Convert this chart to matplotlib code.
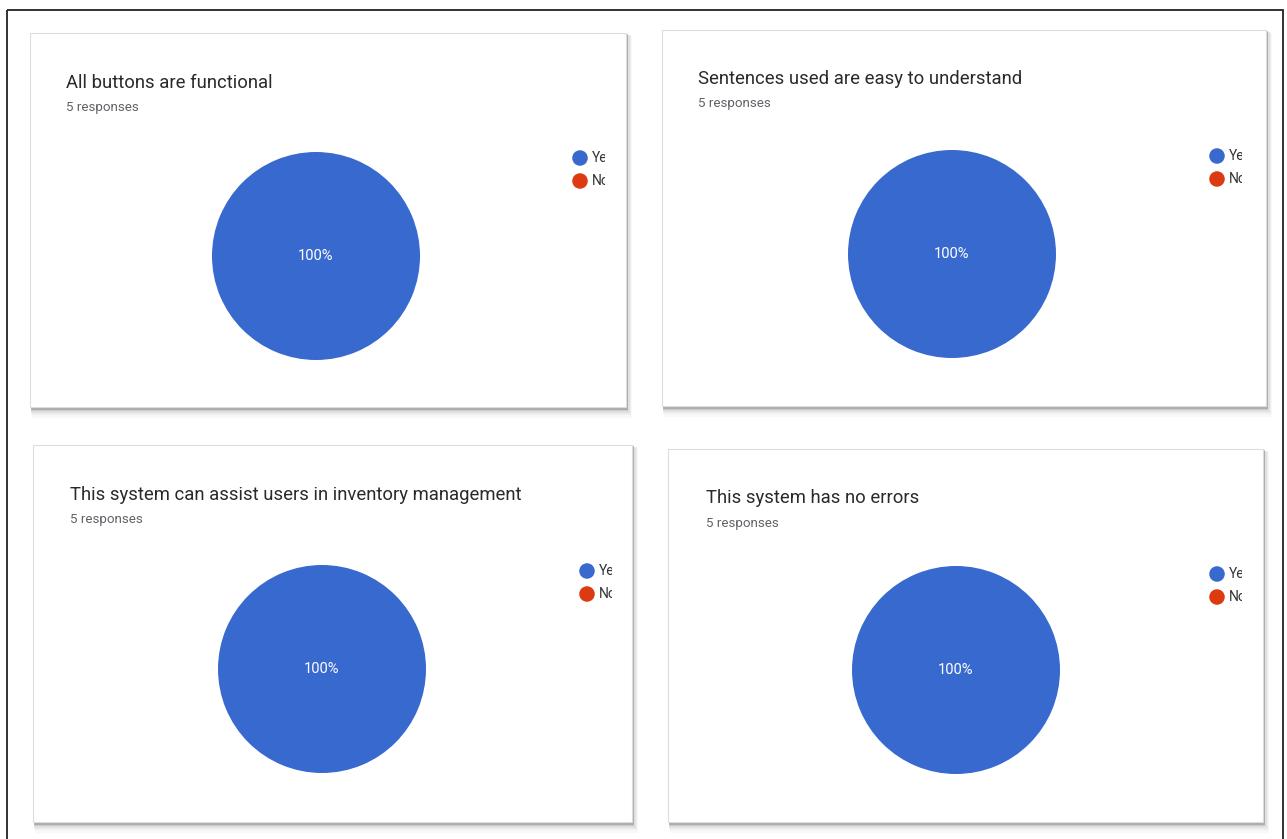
import matplotlib
matplotlib.use("Agg")
import matplotlib.pyplot as plt
from matplotlib.patches import Rectangle

# ---- data ----
titles = [
    "All buttons are functional",
    "Sentences used are easy to understand",
    "This system can assist users in inventory management",
    "This system has no errors",
]
responses = [5, 5, 5, 5]
labels = ["Yes", "No"]
yes_counts = [5, 5, 5, 5]
no_counts = [0, 0, 0, 0]
colors = ["#3869cf", "#dc3b12"]

# ---- layout (pixels) ----
W, H = 1287, 839
panels = [(30, 33, 626, 407), (662, 30, 1266, 406), (33, 445, 632, 822), (668, 449, 1263, 822)]
pies = [(316, 256, 104), (952, 254, 104), (322, 669, 104), (956, 670, 104)]
title_pos = [(66, 83), (698, 79), (70, 495), (706, 498)]
legend_pos = [(580, 158), (1217, 156), (587, 571), (1217, 574)]
legend_clip = [605, 1242, 612, 1242]

plt.rcParams['font.family'] = ['Roboto', 'DejaVu Sans']
fig = plt.figure(figsize=(W / 100, H / 100), dpi=100)
fig.patch.set_facecolor("white")
bg = fig.add_axes([0, 0, 1, 1])
bg.set_xlim(0, W)
bg.set_ylim(H, 0)
bg.axis("off")

# outer frame
bg.add_patch(Rectangle((6.5, 9.5), 1283 - 6.5, 900, fill=False, edgecolor="#222222", lw=1.3, zorder=1))

for i, (x0, y0, x1, y1) in enumerate(panels):
    # shadow (layered for blur)
    for off, a in [(9, 0.04), (7, 0.06), (5, 0.09), (3.5, 0.15), (2.5, 0.25)]:
        bg.add_patch(Rectangle((x0 + off * 0.2, y0 + off * 0.3), x1 - x0 + off * 0.5, y1 - y0 + off * 0.9,
                               facecolor="#555555", edgecolor="none", alpha=a, zorder=2))
    bg.add_patch(Rectangle((x0, y0), x1 - x0, y1 - y0, facecolor="white",
                           edgecolor="#dddddd", lw=0.8, zorder=3))
    tx, ty = title_pos[i]
    bg.text(tx, ty, titles[i], fontsize=13.3, color="#2a2a2a", va="center", ha="left", zorder=5)
    bg.text(tx, ty + 25, f"{responses[i]} responses", fontsize=9.6, color="#5f6368",
            va="center", ha="left", zorder=5)
    # legend (labels cut off at the chart's right edge, as in the original)
    lx, ly = legend_pos[i]
    for j, lab in enumerate(labels):
        bg.scatter([lx], [ly + 23 * j], s=125, color=colors[j], zorder=5, edgecolors="none")
        bg.text(lx + 12, ly + 23 * j, lab, fontsize=10, color="#333333",
                va="center", ha="left", zorder=5)
    bg.add_patch(Rectangle((legend_clip[i], ly - 14), x1 - 1.5 - legend_clip[i], 23 * len(labels) + 10,
                           facecolor="white", edgecolor="none", zorder=6))

    # pie
    cx, cy, r = pies[i]
    ax = fig.add_axes([(cx - r) / W, 1 - (cy + r) / H, 2 * r / W, 2 * r / H])
    ax.set_zorder(10)
    ax.patch.set_alpha(0)
    vals = [yes_counts[i], no_counts[i]]
    ax.pie(vals, colors=colors, startangle=90, counterclock=False,
           autopct=lambda p: f"{p:.0f}%" if p > 0 else "",
           pctdistance=0.0, textprops=dict(color="white", fontsize=10.5),
           wedgeprops=dict(edgecolor="none"), radius=1)
    ax.set_xlim(-1, 1)
    ax.set_ylim(-1, 1)
    ax.set_aspect("auto")
    ax.axis("off")

fig.savefig("out.png", dpi=100, facecolor="white")
